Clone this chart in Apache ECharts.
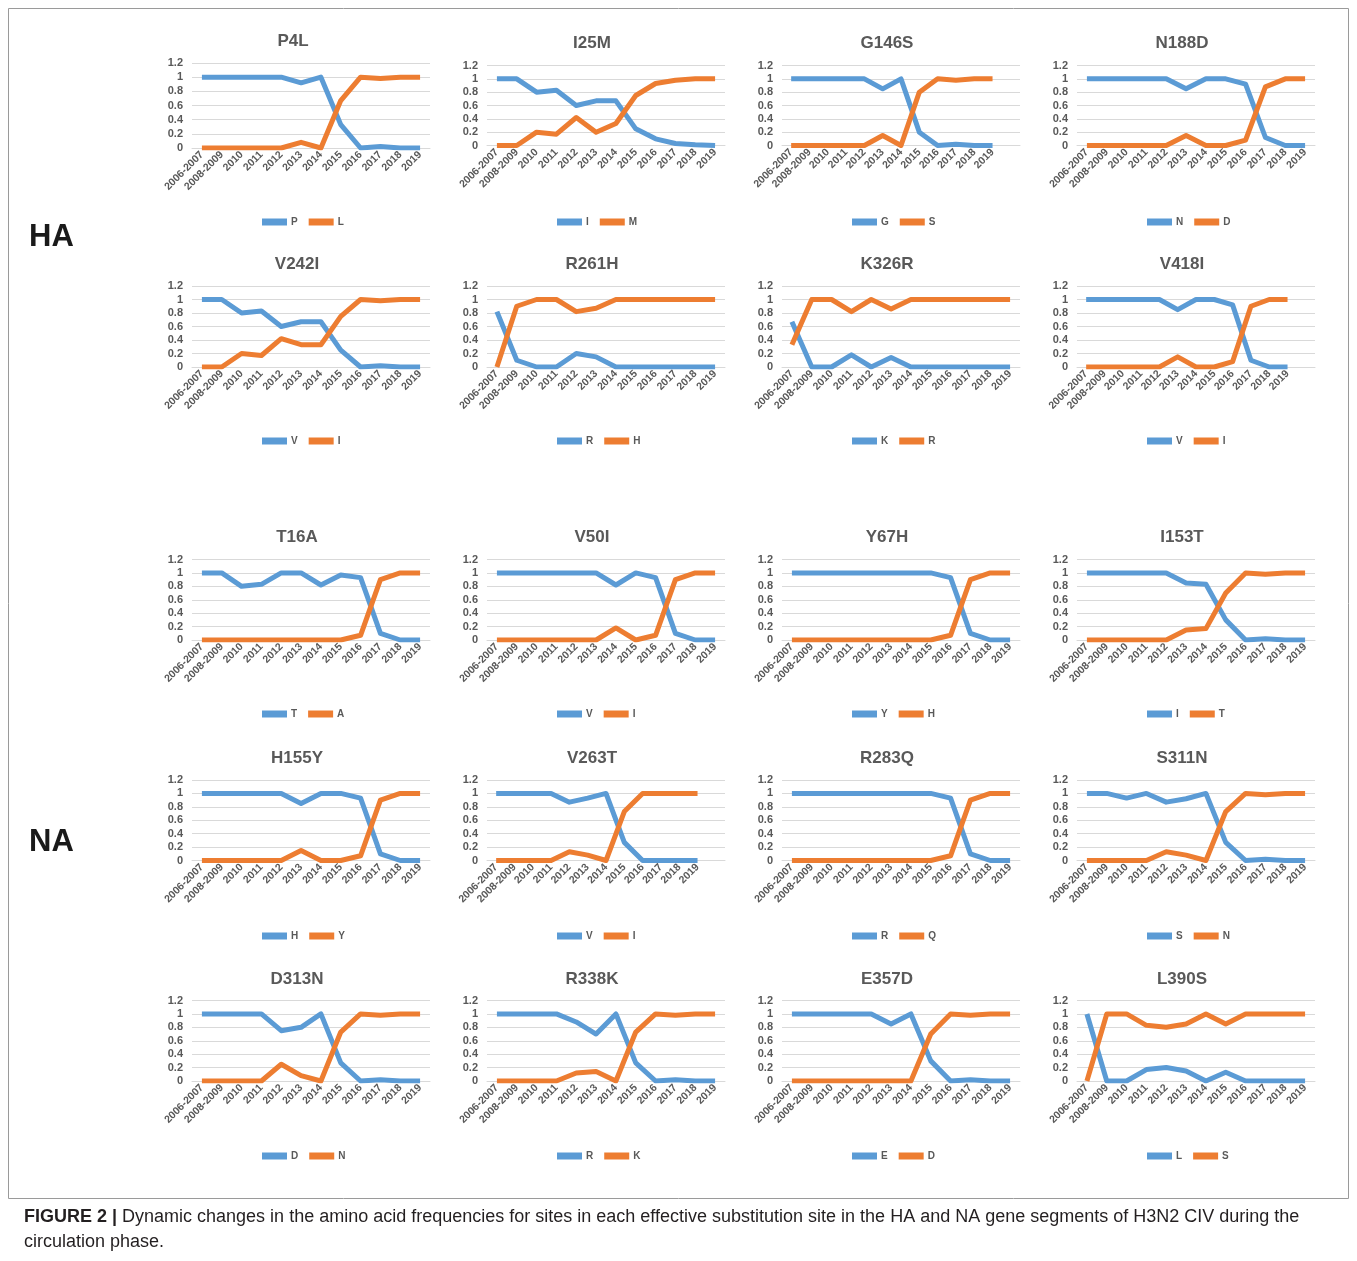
<!DOCTYPE html>
<html>
<head>
<meta charset="utf-8">
<title>Amino acid frequencies, H3N2 CIV</title>
<script src="https://cdn.jsdelivr.net/npm/echarts@6/dist/echarts.min.js"></script>
<style>
  html, body { margin: 0; padding: 0; background: #ffffff; }
  #chart { width: 1357px; height: 1261px; }
</style>
</head>
<body>
<div id="chart"></div>
<script>
// Sampling periods on the category axis
const years = ['2006-2007', '2008-2009', '2010', '2011', '2012', '2013', '2014', '2015', '2016', '2017', '2018', '2019'];
const yTicks = [0, 0.2, 0.4, 0.6, 0.8, 1, 1.2];

// HA sites: frequency of the ancestral residue (first) and the substituted residue (second)
const P4L_P = [1, 1, 1, 1, 1, 0.92, 1, 0.33, 0, 0.02, 0, 0];
const P4L_L = [0, 0, 0, 0, 0, 0.08, 0, 0.67, 1, 0.98, 1, 1];
const I25M_I = [1, 1, 0.8, 0.83, 0.6, 0.67, 0.67, 0.25, 0.1, 0.03, 0.01, 0];
const I25M_M = [0, 0, 0.2, 0.17, 0.42, 0.2, 0.33, 0.75, 0.93, 0.98, 1, 1];
const G146S_G = [1, 1, 1, 1, 1, 0.85, 1, 0.2, 0, 0.02, 0, 0];
const G146S_S = [0, 0, 0, 0, 0, 0.15, 0, 0.8, 1, 0.98, 1, 1];
const N188D_N = [1, 1, 1, 1, 1, 0.85, 1, 1, 0.92, 0.12, 0, 0];
const N188D_D = [0, 0, 0, 0, 0, 0.15, 0, 0, 0.08, 0.88, 1, 1];
const V242I_V = [1, 1, 0.8, 0.83, 0.6, 0.67, 0.67, 0.25, 0, 0.02, 0, 0];
const V242I_I = [0, 0, 0.2, 0.17, 0.42, 0.33, 0.33, 0.75, 1, 0.98, 1, 1];
const R261H_R = [0.82, 0.1, 0, 0, 0.2, 0.15, 0, 0, 0, 0, 0, 0];
const R261H_H = [0, 0.9, 1, 1, 0.82, 0.87, 1, 1, 1, 1, 1, 1];
const K326R_K = [0.67, 0, 0, 0.18, 0, 0.14, 0, 0, 0, 0, 0, 0];
const K326R_R = [0.33, 1, 1, 0.82, 1, 0.86, 1, 1, 1, 1, 1, 1];
const V418I_V = [1, 1, 1, 1, 1, 0.85, 1, 1, 0.92, 0.1, 0, 0];
const V418I_I = [0, 0, 0, 0, 0, 0.15, 0, 0, 0.08, 0.9, 1, 1];

// NA sites
const T16A_T = [1, 1, 0.8, 0.83, 1, 1, 0.82, 0.97, 0.93, 0.1, 0, 0];
const T16A_A = [0, 0, 0, 0, 0, 0, 0, 0, 0.07, 0.9, 1, 1];
const V50I_V = [1, 1, 1, 1, 1, 1, 0.82, 1, 0.93, 0.1, 0, 0];
const V50I_I = [0, 0, 0, 0, 0, 0, 0.18, 0, 0.07, 0.9, 1, 1];
const Y67H_Y = [1, 1, 1, 1, 1, 1, 1, 1, 0.93, 0.1, 0, 0];
const Y67H_H = [0, 0, 0, 0, 0, 0, 0, 0, 0.07, 0.9, 1, 1];
const I153T_I = [1, 1, 1, 1, 1, 0.85, 0.83, 0.3, 0, 0.02, 0, 0];
const I153T_T = [0, 0, 0, 0, 0, 0.15, 0.17, 0.7, 1, 0.98, 1, 1];
const H155Y_H = [1, 1, 1, 1, 1, 0.85, 1, 1, 0.93, 0.1, 0, 0];
const H155Y_Y = [0, 0, 0, 0, 0, 0.15, 0, 0, 0.07, 0.9, 1, 1];
const V263T_V = [1, 1, 1, 1, 0.87, 0.93, 1, 0.27, 0, 0, 0, 0];
const V263T_I = [0, 0, 0, 0, 0.13, 0.08, 0, 0.73, 1, 1, 1, 1];
const R283Q_R = [1, 1, 1, 1, 1, 1, 1, 1, 0.93, 0.1, 0, 0];
const R283Q_Q = [0, 0, 0, 0, 0, 0, 0, 0, 0.07, 0.9, 1, 1];
const S311N_S = [1, 1, 0.93, 1, 0.87, 0.92, 1, 0.27, 0, 0.02, 0, 0];
const S311N_N = [0, 0, 0, 0, 0.13, 0.08, 0, 0.73, 1, 0.98, 1, 1];
const D313N_D = [1, 1, 1, 1, 0.75, 0.8, 1, 0.27, 0, 0.02, 0, 0];
const D313N_N = [0, 0, 0, 0, 0.25, 0.08, 0, 0.73, 1, 0.98, 1, 1];
const R338K_R = [1, 1, 1, 1, 0.88, 0.7, 1, 0.27, 0, 0.02, 0, 0];
const R338K_K = [0, 0, 0, 0, 0.12, 0.14, 0, 0.73, 1, 0.98, 1, 1];
const E357D_E = [1, 1, 1, 1, 1, 0.85, 1, 0.3, 0, 0.02, 0, 0];
const E357D_D = [0, 0, 0, 0, 0, 0, 0, 0.7, 1, 0.98, 1, 1];
const L390S_L = [1, 0, 0, 0.17, 0.2, 0.15, 0, 0.13, 0, 0, 0, 0];
const L390S_S = [0, 1, 1, 0.83, 0.8, 0.85, 1, 0.85, 1, 1, 1, 1];

// One entry per small chart: site label, residue names, and the two series
const panels = [
  { site: 'P4L',   residues: ['P', 'L'], values: [P4L_P, P4L_L] },
  { site: 'I25M',  residues: ['I', 'M'], values: [I25M_I, I25M_M] },
  { site: 'G146S', residues: ['G', 'S'], values: [G146S_G, G146S_S] },
  { site: 'N188D', residues: ['N', 'D'], values: [N188D_N, N188D_D] },
  { site: 'V242I', residues: ['V', 'I'], values: [V242I_V, V242I_I] },
  { site: 'R261H', residues: ['R', 'H'], values: [R261H_R, R261H_H] },
  { site: 'K326R', residues: ['K', 'R'], values: [K326R_K, K326R_R] },
  { site: 'V418I', residues: ['V', 'I'], values: [V418I_V, V418I_I] },
  { site: 'T16A',  residues: ['T', 'A'], values: [T16A_T, T16A_A] },
  { site: 'V50I',  residues: ['V', 'I'], values: [V50I_V, V50I_I] },
  { site: 'Y67H',  residues: ['Y', 'H'], values: [Y67H_Y, Y67H_H] },
  { site: 'I153T', residues: ['I', 'T'], values: [I153T_I, I153T_T] },
  { site: 'H155Y', residues: ['H', 'Y'], values: [H155Y_H, H155Y_Y] },
  { site: 'V263T', residues: ['V', 'I'], values: [V263T_V, V263T_I] },
  { site: 'R283Q', residues: ['R', 'Q'], values: [R283Q_R, R283Q_Q] },
  { site: 'S311N', residues: ['S', 'N'], values: [S311N_S, S311N_N] },
  { site: 'D313N', residues: ['D', 'N'], values: [D313N_D, D313N_N] },
  { site: 'R338K', residues: ['R', 'K'], values: [R338K_R, R338K_K] },
  { site: 'E357D', residues: ['E', 'D'], values: [E357D_E, E357D_D] },
  { site: 'L390S', residues: ['L', 'S'], values: [L390S_L, L390S_S] }
];

// Charts whose category axis carries one trailing empty slot
const paddedAxes = ['G146S', 'V418I', 'V263T'];

// ---- layout ----
const FONT = '"Liberation Sans", Arial, sans-serif';
const GREY = '#595959';
const GRID_LINE = '#d9d9d9';
const COLORS = ['#5b9bd5', '#ed7d31'];
const COL_STEP = 295;
const GRID_LEFT0 = 192;
const GRID_W = 238;
const rowGrid = [
  { top: 65.5, height: 80 },
  { top: 286, height: 81 },
  { top: 559.5, height: 80.5 },
  { top: 780, height: 80.5 },
  { top: 1000.5, height: 80.5 }
];
const rowTitleTop = [30, 251, 524, 745, 966];
const rowLegendTop = [217, 436, 709, 931, 1151];

const option = {
  animation: false,
  backgroundColor: '#ffffff',
  title: [], grid: [], xAxis: [], yAxis: [], legend: [], series: [],
  graphic: []
};

panels.forEach((p, i) => {
  const r = Math.floor(i / 4);
  const c = i % 4;
  let top = rowGrid[r].top;
  let height = rowGrid[r].height;
  let titleTop = rowTitleTop[r];
  let centre = 292 + COL_STEP * c;
  if (p.site === 'P4L') { top = 63; height = 85; titleTop = 28; centre = 288; }
  const left = GRID_LEFT0 + COL_STEP * c;
  const cats = paddedAxes.includes(p.site) ? years.concat(['']) : years;

  option.title.push({
    text: p.site,
    left: centre,
    top: titleTop,
    textAlign: 'center',
    textStyle: { fontFamily: FONT, fontSize: 17, fontWeight: 'bold', color: GREY }
  });
  option.grid.push({ left: left, top: top, width: GRID_W, height: height });
  option.xAxis.push({
    gridIndex: i,
    type: 'category',
    data: cats,
    boundaryGap: true,
    axisLine: { lineStyle: { color: GRID_LINE, width: 1 } },
    axisTick: { show: false },
    axisLabel: {
      interval: 0, rotate: 45, margin: 5,
      fontFamily: FONT, fontSize: 10.5, fontWeight: 'bold', color: GREY
    },
    splitLine: { show: false }
  });
  option.yAxis.push({
    gridIndex: i,
    type: 'value',
    min: yTicks[0],
    max: yTicks[yTicks.length - 1],
    interval: 0.2,
    axisLine: { show: false },
    axisTick: { show: false },
    axisLabel: {
      margin: 9, fontFamily: FONT, fontSize: 11, fontWeight: 'bold', color: GREY,
      formatter: v => String(Math.round(v * 10) / 10)
    },
    splitLine: { lineStyle: { color: GRID_LINE, width: 1 } }
  });
  const names = p.residues.map(res => p.site + ' ' + res);
  option.legend.push({
    data: names,
    left: 262 + COL_STEP * c,
    top: rowLegendTop[r],
    padding: 0,
    icon: 'rect',
    itemWidth: 25,
    itemHeight: 7,
    itemGap: 11,
    selectedMode: false,
    formatter: n => n.split(' ')[1],
    textStyle: { fontFamily: FONT, fontSize: 10, fontWeight: 'bold', color: GREY, padding: [0, 0, 0, -1] }
  });
  p.values.forEach((vals, k) => {
    option.series.push({
      name: names[k],
      type: 'line',
      xAxisIndex: i,
      yAxisIndex: i,
      data: vals,
      showSymbol: false,
      symbol: 'none',
      color: COLORS[k],
      lineStyle: { width: 5, color: COLORS[k], join: 'round' },
      z: 2 + k
    });
  });
});

// Gene segment labels and the figure frame with its caption
option.graphic = [
  { type: 'rect', shape: { x: 8.5, y: 8.5, width: 1340, height: 1190 },
    style: { fill: null, stroke: '#9a9a9a', lineWidth: 1 }, silent: true },
  { type: 'text', left: 29, top: 222,
    style: { text: 'HA', font: 'bold 31px ' + FONT, fill: '#1a1a1a' } },
  { type: 'text', left: 29, top: 827,
    style: { text: 'NA', font: 'bold 31px ' + FONT, fill: '#1a1a1a' } },
  { type: 'text', left: 24, top: 1208,
    style: {
      text: '{b|FIGURE 2 |} Dynamic changes in the amino acid frequencies for sites in each effective substitution site in the HA and NA gene segments of H3N2 CIV during the',
      font: '18px ' + FONT, fill: '#231f20',
      rich: { b: { font: 'bold 18px ' + FONT, fill: '#231f20' } }
    } },
  { type: 'text', left: 24, top: 1233,
    style: { text: 'circulation phase.', font: '18px ' + FONT, fill: '#231f20' } }
];

const chart = echarts.init(document.getElementById('chart'), null, { renderer: 'canvas' });
chart.setOption(option);
</script>
</body>
</html>
